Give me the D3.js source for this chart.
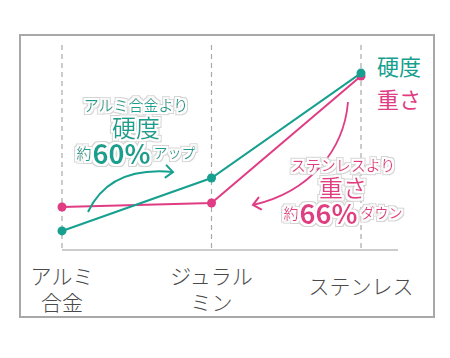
<!DOCTYPE html>
<html>
<head>
<meta charset="utf-8">
<script src="https://cdn.jsdelivr.net/npm/d3@7"></script>
<style>
  html, body { margin: 0; padding: 0; background: #fff; }
  svg { display: block; font-family: "Noto Sans CJK JP", "Noto Sans", sans-serif; }
</style>
</head>
<body>
<div id="chart"></div>
<script>
// ── data ─────────────────────────────────────────
const categories = ['アルミ合金', 'ジュラルミン', 'ステンレス'];
const catLabels = [['アルミ', '合金'], ['ジュラル', 'ミン'], ['ステンレス']];
const hardness = [9.3, 35.1, 86.3];   // 硬度 (relative)
const weight = [21.0, 22.9, 84.9];    // 重さ (relative)
const seriesNames = ['硬度', '重さ'];

const TEAL = '#17a08f', PINK = '#e03c84';

const W = 450, H = 358;
const svg = d3.select('#chart').append('svg').attr('width', W).attr('height', H);
const defs = svg.append('defs');

// halo filter: white fill + light grey rim around the glyphs
const f = defs.append('filter').attr('id', 'halo').attr('x', '-10%').attr('y', '-20%')
     .attr('width', '120%').attr('height', '140%');
f.append('feMorphology').attr('in', 'SourceAlpha').attr('operator', 'dilate').attr('radius', 3).attr('result', 'outer');
f.append('feFlood').attr('flood-color', '#d4d4d4').attr('result', 'grey');
f.append('feComposite').attr('in', 'grey').attr('in2', 'outer').attr('operator', 'in').attr('result', 'rim');
f.append('feMorphology').attr('in', 'SourceAlpha').attr('operator', 'dilate').attr('radius', 2).attr('result', 'inner');
f.append('feFlood').attr('flood-color', '#ffffff').attr('result', 'white');
f.append('feComposite').attr('in', 'white').attr('in2', 'inner').attr('operator', 'in').attr('result', 'pad');
const fm = f.append('feMerge');
['rim', 'pad', 'SourceGraphic'].forEach(n => fm.append('feMergeNode').attr('in', n));

// frame
svg.append('rect').attr('x', 20).attr('y', 35).attr('width', 414).attr('height', 282)
     .attr('fill', 'none').attr('stroke', '#a8a8a8').attr('stroke-width', 2);

const x = d3.scalePoint().domain(categories).range([62, 361]);
const y = d3.scaleLinear().domain([0, 100]).range([250, 45]);

// dashed verticals
svg.selectAll('.grid').data(categories).join('line')
     .attr('x1', d => x(d)).attr('x2', d => x(d))
     .attr('y1', y(100)).attr('y2', y(0))
     .attr('stroke', '#aaa').attr('stroke-width', 1.2).attr('stroke-dasharray', '5,4');

// baseline
svg.append('line').attr('x1', x(categories[0])).attr('x2', 398)
     .attr('y1', y(0)).attr('y2', y(0)).attr('stroke', '#bbb').attr('stroke-width', 1.5);

// x labels
categories.forEach((c, i) => {
     const lines = catLabels[i];
     const t = svg.append('text').attr('x', x(c)).attr('y', lines.length === 1 ? 285 : 275)
          .attr('text-anchor', 'middle').attr('dominant-baseline', 'central')
          .attr('font-size', 21).attr('font-weight', 300).attr('fill', '#4a4a4a');
     lines.forEach((s, j) => t.append('tspan').attr('x', x(c)).attr('dy', j ? 26 : 0).text(s));
});

// lines + points
const line = d3.line().x((d, i) => x(categories[i])).y(d => y(d));
[[weight, PINK], [hardness, TEAL]].forEach(([vals, col]) => {
     svg.append('path').attr('d', line(vals)).attr('fill', 'none')
          .attr('stroke', col).attr('stroke-width', 2);
     svg.selectAll(null).data(vals).join('circle')
          .attr('cx', (d, i) => x(categories[i])).attr('cy', d => y(d)).attr('r', 4.5)
          .attr('fill', col);
});

// legend
svg.append('text').attr('x', 377).attr('y', 65).attr('dominant-baseline', 'central')
     .attr('font-size', 22).attr('fill', TEAL).text(seriesNames[0]);
svg.append('text').attr('x', 377).attr('y', 98).attr('dominant-baseline', 'central')
     .attr('font-size', 22).attr('fill', PINK).text(seriesNames[1]);

// arrows
[['arr-t', TEAL], ['arr-p', PINK]].forEach(([id, col]) => {
     defs.append('marker').attr('id', id).attr('viewBox', '-10 -10 20 20')
          .attr('markerWidth', 20).attr('markerHeight', 20).attr('markerUnits', 'userSpaceOnUse')
          .attr('orient', 'auto').attr('refX', 0).attr('refY', 0)
          .append('path').attr('d', 'M-7,-6 L0,0 L-7,6').attr('fill', 'none')
          .attr('stroke', col).attr('stroke-width', 2).attr('stroke-linecap', 'round');
});
const tp = d3.path(); tp.moveTo(88, 212); tp.bezierCurveTo(102, 182, 130, 168, 173, 172);
svg.append('path').attr('d', tp.toString()).attr('fill', 'none').attr('stroke', TEAL)
     .attr('stroke-width', 2).attr('marker-end', 'url(#arr-t)');
const pp = d3.path(); pp.moveTo(348, 102); pp.bezierCurveTo(344, 150, 310, 192, 253, 205);
svg.append('path').attr('d', pp.toString()).attr('fill', 'none').attr('stroke', PINK)
     .attr('stroke-width', 1.8).attr('marker-end', 'url(#arr-p)');

// annotations
function note(cx, col, l1, l1y, big, bigy, num, tail, numy) {
     const g = svg.append('g').attr('filter', 'url(#halo)').attr('fill', col)
          .attr('text-anchor', 'middle');
     g.append('text').attr('x', cx).attr('y', l1y).attr('dominant-baseline', 'central')
          .attr('font-size', 15).text(l1);
     g.append('text').attr('x', cx).attr('y', bigy).attr('dominant-baseline', 'central')
          .attr('font-size', 24).text(big);
     const t = g.append('text').attr('x', cx).attr('y', numy).attr('dominant-baseline', 'central');
     t.append('tspan').attr('font-size', 15).text('約');
     t.append('tspan').attr('font-size', 27).attr('font-weight', 'bold').attr('dx', 1).text(num);
     t.append('tspan').attr('font-size', 14).attr('dx', 3).text(tail);
}
note(136, TEAL, 'アルミ合金より', 104, '硬度', 126, '60%', 'アップ', 152);
note(343, PINK, 'ステンレスより', 164, '重さ', 186, '66%', 'ダウン', 212);
</script>
</body>
</html>
